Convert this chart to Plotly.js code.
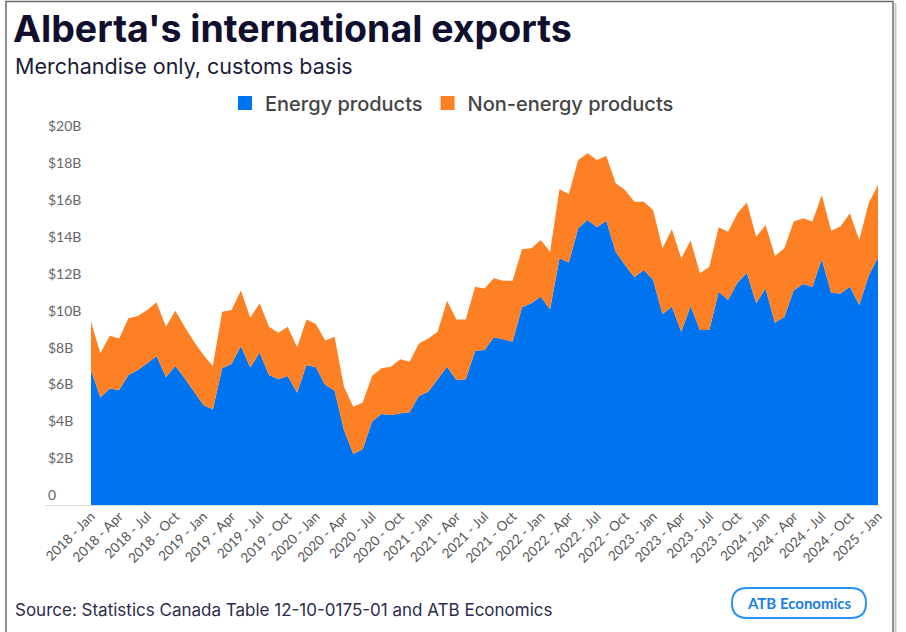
<!DOCTYPE html>
<html>
<head>
<meta charset="utf-8">
<script src="https://cdn.plot.ly/plotly-3.0.1.min.js"></script>
<style>
  html, body { margin: 0; padding: 0; background: #ffffff; }
  #chart { width: 906px; height: 632px; }
</style>
</head>
<body>
<div id="chart"></div>
<script>
// Monthly values, Jan 2018 – Jan 2025, billions of dollars
const energy = [
  7.32, 5.82, 6.32, 6.23, 7.05, 7.32, 7.68, 8.08, 6.92, 7.53, 6.87, 6.14,
  5.42, 5.18, 7.41, 7.64, 8.62, 7.45, 8.26, 7.05, 6.81, 6.99, 6.09, 7.59,
  7.46, 6.50, 6.20, 4.07, 2.76, 3.02, 4.52, 4.93, 4.88, 4.97, 5.03, 5.91,
  6.14, 6.81, 7.50, 6.78, 6.81, 8.36, 8.40, 9.09, 8.98, 8.85, 10.72, 10.93,
  11.29, 10.61, 13.37, 13.15, 15.00, 15.45, 15.05, 15.41, 13.73, 13.01, 12.34, 12.74,
  12.20, 10.35, 10.75, 9.39, 10.79, 9.49, 9.49, 11.56, 11.11, 12.05, 12.59, 10.93,
  11.74, 9.88, 10.20, 11.62, 11.98, 11.83, 13.32, 11.51, 11.47, 11.83, 10.84, 12.41,
  13.43
];
const nonEnergy = [
  2.61, 2.40, 2.86, 2.80, 3.07, 2.92, 2.89, 2.91, 2.74, 3.00, 2.79, 2.71,
  2.71, 2.35, 3.07, 2.93, 3.00, 2.70, 2.67, 2.61, 2.53, 2.67, 2.46, 2.47,
  2.35, 2.41, 2.92, 2.34, 2.57, 2.53, 2.47, 2.48, 2.62, 2.93, 2.74, 2.85,
  2.89, 2.58, 3.57, 3.28, 3.25, 3.47, 3.34, 3.20, 3.18, 3.31, 3.14, 2.98,
  3.07, 3.12, 3.74, 3.70, 3.70, 3.61, 3.65, 3.51, 3.71, 4.06, 4.10, 3.70,
  3.79, 3.56, 4.19, 3.98, 3.54, 3.07, 3.43, 3.49, 3.70, 3.76, 3.80, 3.61,
  3.44, 3.62, 3.71, 3.74, 3.56, 3.53, 3.48, 3.36, 3.62, 3.98, 3.52, 3.94,
  3.91
];
const tickLabels = [
  '2018 - Jan','2018 - Apr','2018 - Jul','2018 - Oct',
  '2019 - Jan','2019 - Apr','2019 - Jul','2019 - Oct',
  '2020 - Jan','2020 - Apr','2020 - Jul','2020 - Oct',
  '2021 - Jan','2021 - Apr','2021 - Jul','2021 - Oct',
  '2022 - Jan','2022 - Apr','2022 - Jul','2022 - Oct',
  '2023 - Jan','2023 - Apr','2023 - Jul','2023 - Oct',
  '2024 - Jan','2024 - Apr','2024 - Jul','2024 - Oct',
  '2025 - Jan'
];
const yTickValues = [0, 2, 4, 6, 8, 10, 12, 14, 16, 18, 20];
const yTickLabels = ['0','$2B','$4B','$6B','$8B','$10B','$12B','$14B','$16B','$18B','$20B'];
const seriesNames = ['Energy products', 'Non-energy products'];
const seriesColors = ['#0074F0', '#FD8124'];

const monthIndex = energy.map((_, i) => i);
const tickIdx = tickLabels.map((_, k) => k * 3);

// layout geometry (pixels)
const W = 906, H = 632;
const plotL = 45, plotR = 880, plotT = 100, plotB = 505;
const px = p => (p - plotL) / (plotR - plotL);
const py = p => (plotB - p) / (plotB - plotT);

const font = 'Inter, Lato, "Open Sans", sans-serif';
const font2 = 'Lato, "Open Sans", sans-serif';

const traces = [
  {
    x: monthIndex, y: energy, name: seriesNames[0], type: 'scatter',
    mode: 'none', stackgroup: 'one', fillcolor: seriesColors[0],
    line: { width: 0 }, showlegend: false, hoverinfo: 'x+y'
  },
  {
    x: monthIndex, y: nonEnergy, name: seriesNames[1], type: 'scatter',
    mode: 'none', stackgroup: 'one', fillcolor: seriesColors[1],
    line: { width: 0 }, showlegend: false, hoverinfo: 'x+y'
  },
  // legend keys (square swatches)
  {
    x: [null], y: [null], name: seriesNames[0], type: 'scatter', mode: 'markers',
    marker: { symbol: 'square', size: 14, color: seriesColors[0] }, showlegend: true
  },
  {
    x: [null], y: [null], name: seriesNames[1], type: 'scatter', mode: 'markers',
    marker: { symbol: 'square', size: 14, color: seriesColors[1] }, showlegend: true
  }
];

// x range: index 0 at px 91, index 84 at px 878
const pxPerMonth = (878 - 91) / 84;
const xMin = -(91 - plotL) / pxPerMonth;
const xMax = 84 + (plotR - 878) / pxPerMonth;
const yPxPerUnit = (505 - 136) / 20;
const yMax = 20 + (136 - plotT) / yPxPerUnit;

function roundRectPath(x0, y0, x1, y1, r) {
  const X = v => px(v).toFixed(5), Y = v => py(v).toFixed(5);
  return 'M' + X(x0 + r) + ',' + Y(y0) +
    ' L' + X(x1 - r) + ',' + Y(y0) +
    ' Q' + X(x1) + ',' + Y(y0) + ' ' + X(x1) + ',' + Y(y0 + r) +
    ' L' + X(x1) + ',' + Y(y1 - r) +
    ' Q' + X(x1) + ',' + Y(y1) + ' ' + X(x1 - r) + ',' + Y(y1) +
    ' L' + X(x0 + r) + ',' + Y(y1) +
    ' Q' + X(x0) + ',' + Y(y1) + ' ' + X(x0) + ',' + Y(y1 - r) +
    ' L' + X(x0) + ',' + Y(y0 + r) +
    ' Q' + X(x0) + ',' + Y(y0) + ' ' + X(x0 + r) + ',' + Y(y0) + ' Z';
}

const layout = {
  width: W, height: H,
  paper_bgcolor: '#ffffff', plot_bgcolor: 'rgba(0,0,0,0)',
  margin: { l: plotL, r: W - plotR, t: plotT, b: H - plotB, pad: 0 },
  font: { family: font, color: '#555555' },
  title: {
    text: "Alberta's international exports",
    xref: 'container', yref: 'container',
    x: 13 / W, xanchor: 'left', y: 1 - 29 / H, yanchor: 'middle',
    font: { family: font, size: 37.5, weight: 700, color: '#10102e' }
  },
  showlegend: true,
  legend: {
    orientation: 'h', xref: 'paper', yref: 'paper', traceorder: 'normal',
    x: px(452), xanchor: 'center', y: py(103), yanchor: 'middle',
    font: { family: font, size: 20, weight: 500, color: '#444444' },
    bgcolor: 'rgba(0,0,0,0)', itemclick: false, itemdoubleclick: false,
    tracegroupgap: 0
  },
  xaxis: {
    range: [xMin, xMax], showgrid: false, zeroline: false, showline: false,
    tickmode: 'array', tickvals: tickIdx, ticktext: tickLabels,
    tickangle: -45, ticks: '', ticklen: 0,
    tickfont: { family: font2, size: 13.5, color: '#555555' },
    fixedrange: true
  },
  yaxis: {
    range: [0, yMax], showgrid: false, showline: false,
    zeroline: true, zerolinecolor: '#dddddd', zerolinewidth: 1,
    tickmode: 'array', tickvals: yTickValues, ticktext: yTickLabels,
    ticklabelposition: 'inside top', ticks: '',
    tickfont: { family: font2, size: 14, color: '#666666' },
    fixedrange: true
  },
  annotations: [
    {
      text: 'Merchandise only, customs basis', xref: 'paper', yref: 'paper',
      x: px(13), y: py(66), xanchor: 'left', yanchor: 'middle', showarrow: false,
      font: { family: font, size: 21.5, color: '#1c1c38' }
    },
    {
      text: 'Source: Statistics Canada Table 12-10-0175-01 and ATB Economics',
      xref: 'paper', yref: 'paper', x: px(13), y: py(610),
      xanchor: 'left', yanchor: 'middle', showarrow: false,
      font: { family: font, size: 17, color: '#2c2c4c' }
    },
    {
      text: '<b>ATB Economics</b>', xref: 'paper', yref: 'paper',
      x: px(799), y: py(603), xanchor: 'center', yanchor: 'middle', showarrow: false,
      font: { family: font2, size: 15, color: '#1a7ee6' }
    }
  ],
  shapes: [
    {
      type: 'path', xref: 'paper', yref: 'paper',
      path: roundRectPath(732, 588, 866, 618, 15),
      line: { color: '#2a92f5', width: 2 }, fillcolor: 'rgba(0,0,0,0)'
    },
    {
      type: 'rect', xref: 'paper', yref: 'paper',
      x0: px(6), x1: px(893), y0: py(1.5), y1: py(640),
      line: { color: '#6a6a6a', width: 1.5 }, fillcolor: 'rgba(0,0,0,0)'
    },
    {
      type: 'line', xref: 'paper', yref: 'paper',
      x0: px(895.5), x1: px(895.5), y0: py(3), y1: py(640),
      line: { color: '#c8c8c8', width: 2 }
    }
  ]
};

Plotly.newPlot('chart', traces, layout, { displayModeBar: false, staticPlot: true });
</script>
</body>
</html>
